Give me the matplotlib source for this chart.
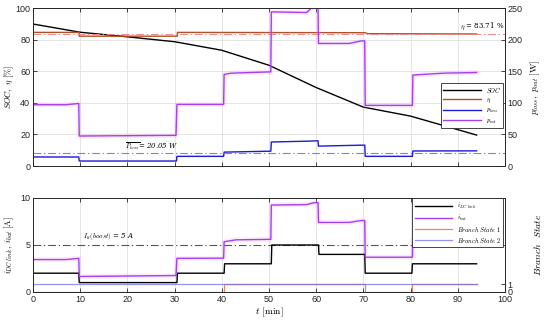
import numpy as np
import matplotlib
matplotlib.use("Agg")
import matplotlib.pyplot as plt

plt.rcParams['font.family'] = ['Liberation Sans', 'DejaVu Sans']
plt.rcParams['mathtext.fontset'] = 'cm'

# ---- data ----
# SOC [%] at breakpoints
soc_t = [0, 10, 20, 30, 40, 50, 60, 70, 80, 94]
soc_v = [89.9, 84.7, 81.8, 78.7, 73.3, 63.8, 49.7, 37.3, 31.6, 19.6]

# efficiency eta [%]
eta_t = [0, 9.8, 9.8, 30.6, 30.6, 70.3, 71, 94]
eta_v = [84.6, 84.6, 82.2, 82.2, 84.6, 84.4, 83.8, 83.6]
eta_mean = 83.71

# power out [W]
pout_t = [0, 7, 9.7, 9.8, 30.3, 30.5, 40.4, 40.5, 42, 50.4, 50.5, 58, 59, 60.4, 60.5, 67, 69.5, 70.3, 70.4, 80.4, 80.5, 87, 94]
pout_v = [97, 97, 99, 47.5, 48.5, 97.5, 97.5, 145, 147, 149, 244, 243, 250, 250, 194, 194, 198, 198, 96, 96, 144, 147, 148]

# power loss [W]
ploss_t = [0, 9.7, 9.8, 30.4, 30.5, 40.4, 40.5, 50.4, 50.5, 59, 60.4, 60.5, 69.5, 70.3, 70.4, 80.4, 80.5, 94]
ploss_v = [14.3, 14.3, 7.9, 7.9, 15.3, 15.3, 22.0, 23.5, 38.0, 39.5, 40.0, 31.5, 33.0, 33.0, 15.3, 15.3, 23.8, 24.0]
ploss_mean = 20.05

# DC link current [A]
idc_t = [0, 9.7, 9.8, 30.5, 30.6, 40.5, 40.6, 50.5, 50.6, 60.5, 60.6, 70.3, 70.4, 80.3, 80.4, 94]
idc_v = [2.0, 2.0, 1.0, 1.0, 2.0, 2.0, 3.0, 3.0, 5.0, 5.0, 4.0, 4.0, 2.0, 2.0, 3.0, 3.0]

# battery current [A]
ibat_t = [0, 7, 9.7, 9.8, 30.3, 30.5, 40.4, 40.5, 43, 50.4, 50.5, 58, 59.5, 60.4, 60.5, 67, 69.5, 70.3, 70.4, 80.4, 80.5, 87, 94]
ibat_v = [3.45, 3.45, 3.58, 1.65, 1.75, 3.58, 3.6, 5.35, 5.55, 5.6, 9.25, 9.3, 9.5, 9.5, 7.4, 7.4, 7.6, 7.6, 3.7, 3.7, 5.6, 5.75, 5.8]
i_lim = 5

# branch states
bs1_t = [0, 40.5, 40.5, 70.3, 70.3, 80.3, 80.3, 94]
bs1_v = [0, 0, 1, 1, 0, 0, 1, 1]
bs2_t = [0, 94]
bs2_v = [1, 1]

c_soc = 'black'
c_eta = '#b0502a'
c_loss = '#1a1ad8'
c_out = '#a040f0'
c_bs1 = '#e06030'
c_bs2 = '#7070e8'
dashdot = (0, (7, 2.5, 1.2, 2.5))

fig = plt.figure(figsize=(5.5, 3.23), dpi=100)
ax1 = fig.add_axes([0.06, 0.486, 0.858, 0.489])
ax1r = ax1.twinx()
ax2 = fig.add_axes([0.06, 0.096, 0.858, 0.291])
ax2r = ax2.twinx()

for a in (ax1, ax1r, ax2, ax2r):
    a.tick_params(direction='in', labelsize=6.5, length=3, width=0.6, colors='#262626', top=True, pad=2)
    for s in a.spines.values():
        s.set_color('#262626')
        s.set_linewidth(0.6)

# ---- top panel ----
ax1.set_xlim(0, 100)
ax1.set_ylim(0, 100)
ax1r.set_ylim(0, 250)
ax1.set_xticks(np.arange(0, 101, 10))
ax1.set_xticklabels([])
ax1.set_yticks(np.arange(0, 101, 20))
ax1r.set_yticks(np.arange(0, 251, 50))
ax1.grid(True, color='#e0e0e0', linewidth=0.6)
ax1.set_axisbelow(True)

l_soc, = ax1.plot(soc_t, soc_v, color=c_soc, lw=1.0, label='$SOC$')
l_eta, = ax1.plot(eta_t, eta_v, color=c_eta, lw=1.0, label=r'$\eta$')
ax1.axhline(eta_mean, color='#f08080', lw=0.8, ls=dashdot, alpha=0.9)
ax1r.plot(pout_t, pout_v, color='#ff90e0', lw=3.5, alpha=0.18, zorder=1)
l_loss, = ax1r.plot(ploss_t, ploss_v, color=c_loss, lw=1.0, label=r'$p_{loss}$')
l_out, = ax1r.plot(pout_t, pout_v, color=c_out, lw=1.0, label=r'$p_{out}$')
ax1r.axhline(ploss_mean, color='#8080d8', lw=0.8, ls=dashdot)
ax1.text(90.5, 88.6, r'$\eta$ = 83.71 %', fontsize=5, va='center', family='DejaVu Serif')
ax1.text(19.5, 12.6, r'$\overline{P_{loss}}$= 20.05 W', fontsize=5, va='center', style='italic', family='DejaVu Serif')

ax1.set_ylabel(r'$SOC,\ \eta\ \mathrm{[\%]}$', fontsize=6.2)
ax1.yaxis.set_label_coords(-0.035, 0.5)
ax1r.set_ylabel(r'$p_{loss},\ p_{out}\ \mathrm{[W]}$', fontsize=6.5)
ax1r.yaxis.set_label_coords(1.05, 0.5)
leg1 = ax1r.legend(handles=[l_soc, l_eta, l_loss, l_out], loc='upper right',
                   bbox_to_anchor=(0.997, 0.525), fontsize=4.5, frameon=True,
                   fancybox=False, edgecolor='#262626', handlelength=6,
                   borderpad=0.4, labelspacing=0.35, borderaxespad=0, framealpha=1)
leg1.get_frame().set_linewidth(0.6)

# ---- bottom panel ----
ax2.set_xlim(0, 100)
ax2.set_ylim(0, 10)
ax2r.set_ylim(0, 12)
ax2.set_xticks(np.arange(0, 101, 10))
ax2.set_yticks([0, 5, 10])
ax2r.set_yticks([0, 1])
ax2.grid(True, axis='x', color='#e0e0e0', linewidth=0.6)
ax2.set_axisbelow(True)

ax2.axhline(i_lim, color='#555555', lw=0.8, ls=dashdot)
ax2.plot(ibat_t, ibat_v, color='#ff90e0', lw=3.5, alpha=0.18, zorder=1)
l_idc, = ax2.plot(idc_t, idc_v, color='black', lw=1.0, label=r'$i_{DC\ link}$')
l_ibat, = ax2.plot(ibat_t, ibat_v, color=c_out, lw=1.0, label=r'$i_{bat}$')
l_bs1, = ax2r.plot(bs1_t, bs1_v, color=c_bs1, lw=0.9, alpha=0.75, label='$Branch\\ State\\ 1$')
l_bs2, = ax2r.plot(bs2_t, bs2_v, color=c_bs2, lw=0.9, alpha=0.75, label='$Branch\\ State\\ 2$')
ax2.text(10.5, 5.9, r'$I_{lt}(boost)$ = 5 A', fontsize=5, va='center', style='italic', family='DejaVu Serif')

ax2.set_ylabel(r'$i_{DC\ link},\ i_{bat}\ \mathrm{[A]}$', fontsize=6.2)
ax2.yaxis.set_label_coords(-0.035, 0.5)
ax2r.set_ylabel(r'$Branch\ \ State$', fontsize=7)
ax2r.yaxis.set_label_coords(1.058, 0.5)
ax2.set_xlabel(r'$t\ \mathrm{[min]}$', fontsize=7, labelpad=1)
leg2 = ax2r.legend(handles=[l_idc, l_ibat, l_bs1, l_bs2], loc='upper right',
                   bbox_to_anchor=(0.997, 0.997), fontsize=4.5, frameon=True,
                   fancybox=False, edgecolor='#262626', handlelength=6,
                   borderpad=0.4, labelspacing=0.3, borderaxespad=0, framealpha=1)
leg2.get_frame().set_linewidth(0.6)

fig.savefig('out.png', dpi=100)
